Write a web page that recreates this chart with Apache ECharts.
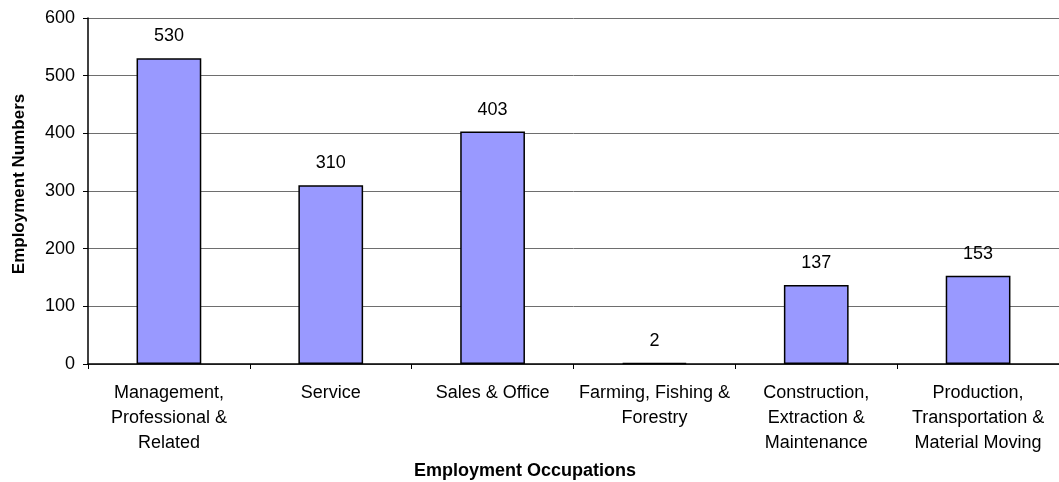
<!DOCTYPE html>
<html>
<head>
<meta charset="utf-8">
<script src="https://cdn.jsdelivr.net/npm/echarts@6/dist/echarts.min.js"></script>
<style>
  html, body { margin: 0; padding: 0; background: #fff; }
  #chart { width: 1059px; height: 482px; }
</style>
</head>
<body>
<div id="chart"></div>
<script>
// Employment by occupation group
const categories = [
  'Management,\nProfessional &\nRelated',
  'Service',
  'Sales & Office',
  'Farming, Fishing &\nForestry',
  'Construction,\nExtraction &\nMaintenance',
  'Production,\nTransportation &\nMaterial Moving'
];
const employment = [530, 310, 403, 2, 137, 153];
const yTicks = [0, 100, 200, 300, 400, 500, 600];
const xTitle = 'Employment Occupations';
const yTitle = 'Employment Numbers';

const font = 'Liberation Sans, Arial, sans-serif';
const chart = echarts.init(document.getElementById('chart'), null, { renderer: 'canvas' });

chart.setOption({
  animation: false,
  backgroundColor: '#ffffff',
  grid: { left: 88, right: 0, top: 18, bottom: 118, containLabel: false, outerBoundsMode: 'none' },
  graphic: [
    {
      type: 'text', x: 525, y: 471,
      style: {
        text: xTitle, font: 'bold 18px ' + font, fill: '#000',
        textAlign: 'center', textVerticalAlign: 'middle'
      }
    },
    {
      type: 'text', x: 19, y: 184, rotation: Math.PI / 2,
      style: {
        text: yTitle, font: 'bold 17px ' + font, fill: '#000',
        textAlign: 'center', textVerticalAlign: 'middle'
      }
    }
  ],
  xAxis: {
    type: 'category',
    data: categories,
    axisLine: { lineStyle: { color: '#000', width: 1.5 } },
    axisTick: { show: true, alignWithLabel: false, length: 5, lineStyle: { color: '#000', width: 1 } },
    axisLabel: {
      interval: 0, margin: 17, fontFamily: font, fontSize: 18, color: '#000', lineHeight: 25
    },
    splitLine: { show: false }
  },
  yAxis: {
    type: 'value',
    min: yTicks[0],
    max: yTicks[yTicks.length - 1],
    interval: 100,
    axisLine: { show: true, lineStyle: { color: '#000', width: 1.5 } },
    axisTick: { show: true, length: 5, lineStyle: { color: '#000', width: 1 } },
    axisLabel: { margin: 13, fontFamily: font, fontSize: 18, color: '#000' },
    splitLine: { show: true, lineStyle: { color: '#6e6e6e', width: 1 } }
  },
  series: [{
    type: 'bar',
    data: employment,
    barWidth: '40%',
    itemStyle: { color: '#9999ff', borderColor: '#000', borderWidth: 1.5 },
    label: {
      show: true, position: 'top', distance: 13,
      fontFamily: font, fontSize: 18, color: '#000'
    }
  }]
});
</script>
</body>
</html>
